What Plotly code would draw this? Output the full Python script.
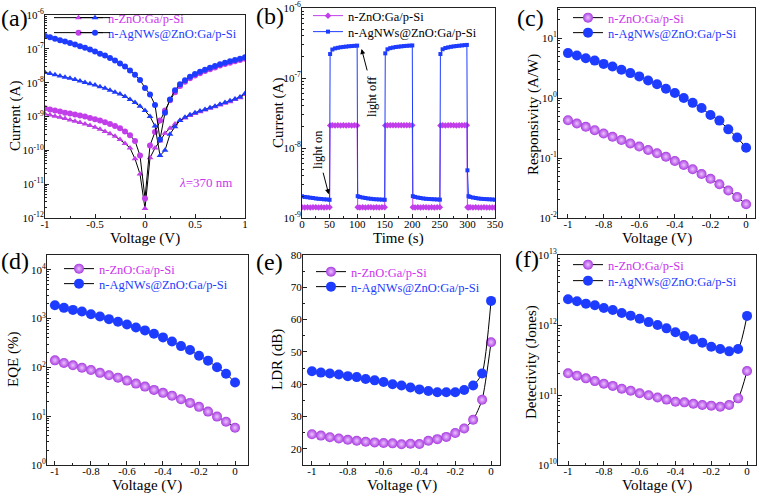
import plotly.graph_objects as go

W, H = 759, 494
MAG = '#C23EEA'
MAG_TXT = '#CC33EE'
BLU = '#1E3CFF'
SPH = '#A83CE0'
SPH_HI = '#EDC2FF'
FONT = 'Liberation Serif'

# ---------------- data (a): I-V dark / light ----------------
v_a = [-1.0, -0.95, -0.9, -0.85, -0.8, -0.75, -0.7, -0.65, -0.6, -0.55, -0.5, -0.45, -0.4, -0.35, -0.3,
       -0.25, -0.2, -0.15, -0.1, -0.05, 0.0, 0.05, 0.1, 0.15, 0.2, 0.25, 0.3, 0.35, 0.4, 0.45, 0.5,
       0.55, 0.6, 0.65, 0.7, 0.75, 0.8, 0.85, 0.9, 0.95, 1.0]
i_zno_dark = [1.18e-9, 1.1e-9, 1.02e-9, 9.5e-10, 8.7e-10, 7.9e-10, 7.2e-10, 6.6e-10, 6.0e-10, 5.4e-10, 4.8e-10,
              4.2e-10, 3.6e-10, 3.1e-10, 2.6e-10, 2.1e-10, 1.6e-10, 1.17e-10, 5.6e-11, 2.0e-11, 1.9e-12,
              6.0e-11, 1.17e-10, 1.9e-10, 3.2e-10, 4.5e-10, 6.0e-10, 7.6e-10, 9.1e-10, 1.07e-9, 1.23e-9,
              1.38e-9, 1.55e-9, 1.74e-9, 1.95e-9, 2.2e-9, 2.45e-9, 2.75e-9, 3.2e-9, 3.6e-9, 4.5e-9]
i_zno_light = [2.0e-8, 1.86e-8, 1.7e-8, 1.58e-8, 1.45e-8, 1.35e-8, 1.23e-8, 1.12e-8, 1.02e-8, 9.3e-9, 8.5e-9,
               7.6e-9, 6.8e-9, 6.0e-9, 5.2e-9, 4.6e-9, 3.9e-9, 3.2e-9, 2.6e-9, 2.0e-9, 1.5e-9,
               1.0e-9, 5.2e-10, 7.0e-11, 1.0e-10, 3.0e-10, 5.0e-10, 7.6e-10, 9.5e-10, 1.12e-9, 1.3e-9,
               1.45e-9, 1.62e-9, 1.8e-9, 2.0e-9, 2.3e-9, 2.6e-9, 2.9e-9, 3.3e-9, 3.8e-9, 4.8e-9]
i_ag_dark = [1.75e-9, 1.62e-9, 1.5e-9, 1.4e-9, 1.3e-9, 1.22e-9, 1.14e-9, 1.07e-9, 1.0e-9, 9.1e-10, 8.3e-10,
             7.6e-10, 6.8e-10, 6.0e-10, 5.2e-10, 4.5e-10, 3.6e-10, 2.8e-10, 1.9e-10, 7.0e-11, 3.8e-12,
             1.4e-10, 3.5e-10, 7.6e-10, 1.5e-9, 3.0e-9, 5.2e-9, 8.0e-9, 1.07e-8, 1.35e-8, 1.62e-8,
             1.9e-8, 2.2e-8, 2.5e-8, 2.8e-8, 3.2e-8, 3.55e-8, 3.9e-8, 4.3e-8, 4.7e-8, 5.1e-8]
i_ag_light = [2.4e-7, 2.2e-7, 2.0e-7, 1.8e-7, 1.66e-7, 1.5e-7, 1.35e-7, 1.2e-7, 1.07e-7, 9.5e-8, 8.3e-8,
              7.2e-8, 6.3e-8, 5.4e-8, 4.5e-8, 3.7e-8, 3.0e-8, 2.3e-8, 1.7e-8, 1.2e-8, 7.0e-9,
              4.5e-9, 2.2e-9, 2.1e-10, 1.3e-9, 3.2e-9, 6.0e-9, 9.0e-9, 1.17e-8, 1.5e-8, 1.8e-8,
              2.1e-8, 2.4e-8, 2.75e-8, 3.1e-8, 3.5e-8, 3.9e-8, 4.3e-8, 4.7e-8, 5.1e-8, 5.6e-8]

# ---------------- data (b): I-t switching ----------------
t_b = [0, 5, 10, 15, 20, 25, 30, 35, 40, 45, 50,
       51, 55, 60, 65, 70, 75, 80, 85, 90, 95, 100,
       101, 105, 110, 115, 120, 125, 130, 135, 140, 145, 150,
       151, 155, 160, 165, 170, 175, 180, 185, 190, 195, 200,
       201, 205, 210, 215, 220, 225, 230, 235, 240, 245, 250,
       251, 255, 260, 265, 270, 275, 280, 285, 290, 295, 299,
       300, 302, 305, 310, 315, 320, 325, 330, 335, 340, 345, 350]
i_b_ag = [2.05e-9, 2.0e-9, 1.98e-9, 1.95e-9, 1.93e-9, 1.9e-9, 1.88e-9, 1.87e-9, 1.85e-9, 1.84e-9, 1.82e-9,
          2.2e-7, 2.55e-7, 2.65e-7, 2.7e-7, 2.75e-7, 2.78e-7, 2.81e-7, 2.84e-7, 2.86e-7, 2.88e-7, 2.9e-7,
          2.05e-9, 2.0e-9, 1.96e-9, 1.93e-9, 1.9e-9, 1.88e-9, 1.86e-9, 1.85e-9, 1.84e-9, 1.83e-9, 1.82e-9,
          2.25e-7, 2.57e-7, 2.67e-7, 2.72e-7, 2.77e-7, 2.8e-7, 2.83e-7, 2.86e-7, 2.88e-7, 2.9e-7, 2.92e-7,
          2.05e-9, 2.0e-9, 1.96e-9, 1.93e-9, 1.9e-9, 1.88e-9, 1.87e-9, 1.86e-9, 1.85e-9, 1.84e-9, 1.83e-9,
          2.2e-7, 2.57e-7, 2.68e-7, 2.74e-7, 2.79e-7, 2.83e-7, 2.86e-7, 2.89e-7, 2.92e-7, 2.95e-7, 2.97e-7,
          4.8e-9, 2.05e-9, 2.0e-9, 1.96e-9, 1.93e-9, 1.9e-9, 1.88e-9, 1.87e-9, 1.86e-9, 1.85e-9, 1.84e-9, 1.83e-9]
i_b_zno = [1.42e-9, 1.41e-9, 1.42e-9, 1.41e-9, 1.42e-9, 1.42e-9, 1.41e-9, 1.42e-9, 1.41e-9, 1.42e-9, 1.42e-9,
           2.1e-8, 2.12e-8, 2.1e-8, 2.11e-8, 2.1e-8, 2.12e-8, 2.1e-8, 2.11e-8, 2.1e-8, 2.11e-8, 2.1e-8,
           1.42e-9, 1.41e-9, 1.42e-9, 1.41e-9, 1.42e-9, 1.42e-9, 1.41e-9, 1.42e-9, 1.41e-9, 1.42e-9, 1.42e-9,
           2.1e-8, 2.12e-8, 2.11e-8, 2.12e-8, 2.11e-8, 2.12e-8, 2.11e-8, 2.12e-8, 2.11e-8, 2.12e-8, 2.12e-8,
           1.42e-9, 1.41e-9, 1.42e-9, 1.41e-9, 1.42e-9, 1.42e-9, 1.41e-9, 1.42e-9, 1.41e-9, 1.42e-9, 1.42e-9,
           2.1e-8, 2.11e-8, 2.1e-8, 2.11e-8, 2.12e-8, 2.11e-8, 2.1e-8, 2.11e-8, 2.12e-8, 2.11e-8, 2.12e-8,
           1.42e-9, 1.41e-9, 1.42e-9, 1.41e-9, 1.42e-9, 1.41e-9, 1.41e-9, 1.42e-9, 1.41e-9, 1.41e-9, 1.41e-9, 1.41e-9]

# ---------------- data (c)-(f): figures of merit vs voltage ----------------
v_cf = [-1.0, -0.95, -0.9, -0.85, -0.8, -0.75, -0.7, -0.65, -0.6, -0.55, -0.5,
        -0.45, -0.4, -0.35, -0.3, -0.25, -0.2, -0.15, -0.1, -0.05, 0.0]
resp_zno = [0.427, 0.376, 0.331, 0.291, 0.256, 0.226, 0.199, 0.175, 0.155, 0.136, 0.12,
            0.105, 0.089, 0.0766, 0.065, 0.054, 0.045, 0.0366, 0.0288, 0.0223, 0.017]
resp_ag = [5.6, 5.1, 4.6, 4.2, 3.7, 3.35, 2.95, 2.6, 2.29, 1.96, 1.69,
           1.43, 1.21, 1.0, 0.83, 0.68, 0.52, 0.42, 0.30, 0.22, 0.148]
eqe_zno = [139, 123, 110, 98, 88, 77, 69, 61.5, 53.5, 46.4, 40.3,
           34.5, 30, 26.3, 22.2, 18.7, 15.5, 12.4, 9.8, 7.7, 5.8]
eqe_ag = [1860, 1650, 1500, 1390, 1225, 1100, 970, 855, 755, 655, 570,
          486, 410, 339, 272, 226, 173, 137, 100, 74, 49]
ldr_zno = [24.5, 24.1, 23.6, 23.2, 22.8, 22.5, 22.2, 22.0, 21.8, 21.7, 21.4,
           21.6, 21.5, 22.5, 23.0, 23.7, 24.9, 26.3, 29.0, 35.2, 53.0]
ldr_ag = [44.0, 43.6, 43.3, 43.0, 42.5, 42.2, 41.6, 41.2, 40.7, 40.0, 39.6,
          39.0, 38.4, 37.9, 37.5, 37.5, 37.5, 38.2, 39.6, 43.3, 65.8]
det_zno = [2.04e11, 1.89e11, 1.73e11, 1.58e11, 1.45e11, 1.35e11, 1.23e11, 1.15e11, 1.06e11, 9.9e10, 9.2e10,
           8.6e10, 8.0e10, 7.85e10, 7.5e10, 7.2e10, 7.05e10, 6.8e10, 7.2e10, 8.96e10, 2.2e11]
det_ag = [2.33e12, 2.18e12, 2.02e12, 1.91e12, 1.75e12, 1.64e12, 1.48e12, 1.36e12, 1.23e12, 1.1e12, 1.0e12,
          8.96e11, 7.86e11, 6.96e11, 6.24e11, 5.6e11, 4.9e11, 4.54e11, 4.2e11, 4.54e11, 1.35e12]

# ---------------- tick labels ----------------
xt_a = [-1, -0.5, 0, 0.5, 1]
xt_a_lbl = ['-1', '-0.5', '0', '0.5', '1']
xt_b = [0, 50, 100, 150, 200, 250, 300, 350]
xt_b_lbl = ['0', '50', '100', '150', '200', '250', '300', '350']
xt_cf = [-1, -0.8, -0.6, -0.4, -0.2, 0]
xt_cf_lbl = ['-1', '-0.8', '-0.6', '-0.4', '-0.2', '0']
yt_a = [1e-12, 1e-11, 1e-10, 1e-9, 1e-8, 1e-7, 1e-6]
yt_a_lbl = ['10<sup>-12</sup>', '10<sup>-11</sup>', '10<sup>-10</sup>', '10<sup>-9</sup>',
            '10<sup>-8</sup>', '10<sup>-7</sup>', '10<sup>-6</sup>']
yt_b = [1e-9, 1e-8, 1e-7, 1e-6]
yt_b_lbl = ['10<sup>-9</sup>', '10<sup>-8</sup>', '10<sup>-7</sup>', '10<sup>-6</sup>']
yt_c = [1e-2, 1e-1, 1, 10]
yt_c_lbl = ['10<sup>-2</sup>', '10<sup>-1</sup>', '10<sup>0</sup>', '10<sup>1</sup>']
yt_d = [1, 10, 100, 1000, 10000]
yt_d_lbl = ['10<sup>0</sup>', '10<sup>1</sup>', '10<sup>2</sup>', '10<sup>3</sup>', '10<sup>4</sup>']
yt_e = [20, 30, 40, 50, 60, 70, 80]
yt_e_lbl = ['20', '30', '40', '50', '60', '70', '80']
yt_f = [1e10, 1e11, 1e12, 1e13]
yt_f_lbl = ['10<sup>10</sup>', '10<sup>11</sup>', '10<sup>12</sup>', '10<sup>13</sup>']

LBL_ZNO = 'n-ZnO:Ga/p-Si'
LBL_AG = 'n-AgNWs@ZnO:Ga/p-Si'

# ---------------- layout geometry (pixels) ----------------
panels = {
    'a': dict(x0=45, x1=245, y0=15, y1=218),
    'b': dict(x0=302, x1=495, y0=8, y1=218),
    'c': dict(x0=558, x1=755, y0=8, y1=218),
    'd': dict(x0=47, x1=248, y0=255, y1=465),
    'e': dict(x0=303, x1=500, y0=255, y1=465),
    'f': dict(x0=558, x1=756, y0=255, y1=465),
}
axis_ids = {'a': '', 'b': '2', 'c': '3', 'd': '4', 'e': '5', 'f': '6'}

fig = go.Figure()
layout = dict(width=W, height=H, margin=dict(l=0, r=0, t=0, b=0, autoexpand=False), autosize=False,
              paper_bgcolor='white', plot_bgcolor='white', showlegend=True,
              font=dict(family=FONT, size=11, color='black'))

def ax_common():
    return dict(showline=True, linecolor='#222', linewidth=1, mirror=True, ticks='inside',
                ticklen=4, tickwidth=1, tickcolor='#222', showgrid=False, zeroline=False,
                tickfont=dict(family=FONT, size=11, color='black'), fixedrange=True)

def set_axes(p, xr, yr, xt, xtl, yt, ytl, ylog, xminor=None):
    g = panels[p]
    s = axis_ids[p]
    xa = ax_common()
    xa.update(domain=[g['x0'] / W, g['x1'] / W], range=xr, tickmode='array', tickvals=xt,
              ticktext=xtl, anchor='y' + s, ticklabelstandoff=-4)
    if xminor is not None:
        xa['minor'] = dict(ticks='inside', ticklen=2, dtick=xminor, tickcolor='#222')
    ya = ax_common()
    ya.update(domain=[1 - g['y1'] / H, 1 - g['y0'] / H], range=yr, tickmode='array',
              tickvals=yt, ticktext=ytl, anchor='x' + s, ticklabelstandoff=-2)
    if ylog:
        ya['type'] = 'log'
        ya['minor'] = dict(ticks='inside', ticklen=2, dtick='D1', tickcolor='#222')
    else:
        ya['minor'] = dict(ticks='inside', ticklen=2, dtick=5, tickcolor='#222')
    layout['xaxis' + s] = xa
    layout['yaxis' + s] = ya

set_axes('a', [-1, 1], [-12, -6], xt_a, xt_a_lbl, yt_a, yt_a_lbl, True, 0.25)
set_axes('b', [0, 350], [-9, -6], xt_b, xt_b_lbl, yt_b, yt_b_lbl, True, 25)
set_axes('c', [-1.056, 0.05], [-2, 1.5], xt_cf, xt_cf_lbl, yt_c, yt_c_lbl, True, 0.1)
set_axes('d', [-1.044, 0.072], [0, 4.3], xt_cf, xt_cf_lbl, yt_d, yt_d_lbl, True, 0.1)
set_axes('e', [-1.05, 0.05], [15, 80], xt_cf, xt_cf_lbl, yt_e, yt_e_lbl, False, 0.1)
set_axes('f', [-1.056, 0.05], [10, 13], xt_cf, xt_cf_lbl, yt_f, yt_f_lbl, True, 0.1)

# ---------------- legends: one per entry, placed by glyph start / row centre ----------------
legend_count = [0]

def new_legend(gx, gy, itemwidth=30):
    legend_count[0] += 1
    key = 'legend' if legend_count[0] == 1 else 'legend%d' % legend_count[0]
    layout[key] = dict(x=(gx - 5) / W, y=1 - gy / H, xanchor='left', yanchor='middle',
                       bgcolor='rgba(0,0,0,0)', borderwidth=0, itemwidth=itemwidth,
                       font=dict(family=FONT, size=12.5), itemclick=False, itemdoubleclick=False)
    return key

def colored(txt, col):
    return '<span style="color:%s">%s</span>' % (col, txt)

def ax_of(p):
    s = axis_ids[p]
    return dict(xaxis='x' + s, yaxis='y' + s)

# ---- (a)
lgA1 = new_legend(54, 18, 49)
lgB1 = new_legend(80, 18)
lgA2 = new_legend(54, 33, 49)
lgB2 = new_legend(80, 33)
fig.add_trace(go.Scatter(x=v_a, y=i_zno_dark, mode='lines+markers', name=colored(LBL_ZNO, MAG_TXT),
                         line=dict(color='black', width=1),
                         marker=dict(symbol='triangle-up', size=6, color=MAG), legend=lgA1, **ax_of('a')))
fig.add_trace(go.Scatter(x=v_a, y=i_ag_dark, mode='lines+markers', name=colored(LBL_AG, BLU),
                         line=dict(color='black', width=1),
                         marker=dict(symbol='circle', size=6, color=MAG), legend=lgA2, **ax_of('a')))
fig.add_trace(go.Scatter(x=v_a, y=i_zno_light, mode='lines+markers', name=' ',
                         line=dict(color='black', width=1),
                         marker=dict(symbol='triangle-up', size=6, color=BLU), legend=lgB1, **ax_of('a')))
fig.add_trace(go.Scatter(x=v_a, y=i_ag_light, mode='lines+markers', name=' ',
                         line=dict(color='black', width=1),
                         marker=dict(symbol='circle', size=6, color=BLU), legend=lgB2, **ax_of('a')))

# ---- (b)
lgb1 = new_legend(313, 16)
lgb2 = new_legend(313, 32)
fig.add_trace(go.Scatter(x=t_b, y=i_b_zno, mode='lines+markers', name=LBL_ZNO,
                         line=dict(color=MAG, width=1),
                         marker=dict(symbol='diamond', size=5, color=MAG), legend=lgb1, **ax_of('b')))
fig.add_trace(go.Scatter(x=t_b, y=i_b_ag, mode='lines+markers', name=LBL_AG,
                         line=dict(color=BLU, width=1),
                         marker=dict(symbol='square', size=4, color=BLU), legend=lgb2, **ax_of('b')))

# ---- (c)-(f)
cf_sets = [
    ('c', resp_zno, resp_ag, (573, 18), (573, 33)),
    ('d', eqe_zno, eqe_ag, (64, 269), (64, 284)),
    ('e', ldr_zno, ldr_ag, (316, 272), (316, 287)),
    ('f', det_zno, det_ag, (573, 265), (573, 281)),
]
for p, yz, yag, l1, l2 in cf_sets:
    k1 = new_legend(*l1)
    k2 = new_legend(*l2)
    fig.add_trace(go.Scatter(x=v_cf, y=yz, mode='lines+markers', name=colored(LBL_ZNO, MAG_TXT),
                             line=dict(color='black', width=1, shape='spline', smoothing=0.6),
                             marker=dict(symbol='circle', size=10, color=SPH,
                                         gradient=dict(type='radial', color=SPH_HI),
                                         line=dict(width=0)),
                             legend=k1, **ax_of(p)))
    fig.add_trace(go.Scatter(x=v_cf, y=yag, mode='lines+markers', name=colored(LBL_AG, BLU),
                             line=dict(color='black', width=1, shape='spline', smoothing=0.6),
                             marker=dict(symbol='circle', size=10, color=BLU, line=dict(width=0)),
                             legend=k2, **ax_of(p)))

# ---------------- annotations ----------------
ann = []

def txt(x, y, text, size=15, angle=0, color='black'):
    ann.append(dict(x=x / W, y=1 - y / H, xref='paper', yref='paper', text=text, showarrow=False,
                    xanchor='center', yanchor='middle', textangle=angle,
                    font=dict(family=FONT, size=size, color=color)))

# panel letters
for lab, (x, y) in {'(a)': (14, 18), '(b)': (270, 16), '(c)': (530, 18),
                    '(d)': (15, 261), '(e)': (269, 262), '(f)': (527, 259)}.items():
    txt(x, y, lab, size=24)

# axis titles
txt(15, 116, 'Current (A)', angle=-90)
txt(145, 238, 'Voltage (V)')
txt(278, 113, 'Current (A)', angle=-90)
txt(398, 238, 'Time (s)')
txt(533, 115, 'Responsivity (A/W)', angle=-90)
txt(657, 238, 'Voltage (V)')
txt(13, 360, 'EQE (%)', angle=-90)
txt(147, 485, 'Voltage (V)')
txt(277, 360, 'LDR (dB)', angle=-90)
txt(402, 485, 'Voltage (V)')
txt(531, 362, 'Detectivity (Jones)', angle=-90)
txt(657, 485, 'Voltage (V)')

# lambda note in (a)
txt(205, 182, '<i>λ</i>=370 nm', size=13, color=MAG_TXT)

# light on / off in (b)
txt(318, 150, 'light on', size=12.5, angle=-90)
txt(372, 97, 'light off', size=12.5, angle=-90)
ann.append(dict(x=48.5, y=-8.66, xref='x2', yref='y2', ax=-6, ay=-23,
                text='', showarrow=True, arrowhead=2, arrowsize=1, arrowwidth=1, arrowcolor='black'))
ann.append(dict(x=108, y=-6.585, xref='x2', yref='y2', ax=6, ay=23,
                text='', showarrow=True, arrowhead=2, arrowsize=1, arrowwidth=1, arrowcolor='black'))

layout['annotations'] = ann
fig.update_layout(**layout)
fig.write_html('out.html', config={'displayModeBar': False, 'staticPlot': False},
               post_script="document.body.style.margin='0';document.body.style.padding='0';")
